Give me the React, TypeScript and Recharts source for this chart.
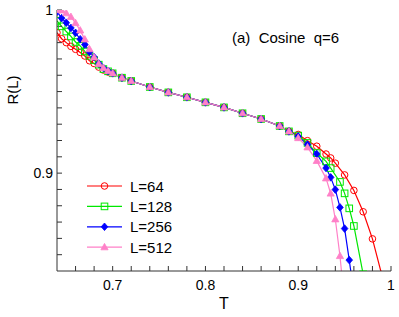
import { LineChart, Line, XAxis, YAxis } from "recharts";

// temperature grid: dense at low T, shared middle part
const lowT = [0.64, 0.645, 0.65, 0.655, 0.66, 0.665, 0.67, 0.675, 0.68, 0.685, 0.69, 0.695];
const midT = [0.7, 0.71, 0.72, 0.74, 0.76, 0.78, 0.8, 0.82, 0.84, 0.86, 0.88, 0.89];
const midR = [0.9612, 0.9585, 0.9565, 0.9528, 0.9495, 0.9465, 0.9434, 0.9403, 0.9367, 0.9332, 0.9289, 0.9256];

// L=64
const low64 = [0.9861, 0.9824, 0.98, 0.9777, 0.9759, 0.974, 0.9718, 0.9689, 0.9672, 0.965, 0.9632, 0.962];
const highT64 = [0.9, 0.91, 0.92, 0.93, 0.935, 0.94, 0.95, 0.96, 0.97, 0.98, 0.99];
const high64 = [0.9237, 0.9199, 0.9165, 0.9117, 0.9093, 0.9061, 0.8989, 0.8894, 0.8763, 0.8597, 0.8378];

// L=128
const low128 = [0.9934, 0.99, 0.9868, 0.9838, 0.9804, 0.978, 0.9746, 0.9719, 0.9693, 0.9665, 0.9638, 0.9624];
const highT128 = [0.9, 0.91, 0.92, 0.93, 0.935, 0.945, 0.95, 0.955, 0.96, 0.97];
const high128 = [0.923, 0.9185, 0.9123, 0.9072, 0.9031, 0.8946, 0.8876, 0.8784, 0.8676, 0.838];

// L=256
const low256 = [0.999, 0.995, 0.9922, 0.989, 0.986, 0.9821, 0.9788, 0.9743, 0.9711, 0.9672, 0.9645, 0.9627];
const highT256 = [0.9, 0.91, 0.92, 0.93, 0.935, 0.94, 0.945, 0.95, 0.955, 0.96];
const high256 = [0.9225, 0.9175, 0.9117, 0.9031, 0.8974, 0.8899, 0.879, 0.866, 0.8467, 0.826];

// L=512
const low512 = [1.0, 0.9998, 0.998, 0.9958, 0.992, 0.9875, 0.982, 0.976, 0.971, 0.967, 0.9645, 0.9627];
const highT512 = [0.9, 0.91, 0.92, 0.93, 0.935, 0.94, 0.945, 0.95];
const high512 = [0.9215, 0.9158, 0.9075, 0.8968, 0.8875, 0.8717, 0.8492, 0.82];

const xTicks = [0.66, 0.68, 0.7, 0.72, 0.74, 0.76, 0.78, 0.8, 0.82, 0.84, 0.86, 0.88, 0.9, 0.92, 0.94, 0.96, 0.98, 1.0];
const yTicks = [0.85, 0.86, 0.87, 0.88, 0.89, 0.9, 0.91, 0.92, 0.93, 0.94, 0.95, 0.96, 0.97, 0.98, 0.99, 1.0];

const FONT = "'Liberation Sans', Arial, Helvetica, sans-serif";

const build = (low: number[], highT: number[], high: number[]) => [
  ...lowT.map((t, i) => ({ t, r: low[i] })),
  ...midT.map((t, i) => ({ t, r: midR[i] })),
  ...highT.map((t, i) => ({ t, r: high[i] })),
];

const series = [
  { name: "L=64", color: "#ff0000", shape: "circle", data: build(low64, highT64, high64) },
  { name: "L=128", color: "#00e800", shape: "square", data: build(low128, highT128, high128) },
  { name: "L=256", color: "#0000ff", shape: "diamond", data: build(low256, highT256, high256) },
  { name: "L=512", color: "#ff80c8", shape: "triangle", data: build(low512, highT512, high512) },
];

function Marker({ shape, cx, cy, color }: { shape: string; cx: number; cy: number; color: string }) {
  if (cx == null || cy == null) return null;
  if (shape === "circle") return <circle cx={cx} cy={cy} r={3.3} fill="none" stroke={color} strokeWidth={1} />;
  if (shape === "square")
    return <rect x={cx - 3.3} y={cy - 3.3} width={6.6} height={6.6} fill="none" stroke={color} strokeWidth={1} />;
  if (shape === "diamond")
    return (
      <path
        d={`M${cx},${cy - 3.8}L${cx + 3.3},${cy}L${cx},${cy + 3.8}L${cx - 3.3},${cy}Z`}
        fill={color}
        stroke={color}
        strokeWidth={0.8}
      />
    );
  return (
    <path
      d={`M${cx},${cy - 3.8}L${cx + 3.6},${cy + 2.6}L${cx - 3.6},${cy + 2.6}Z`}
      fill={color}
      stroke={color}
      strokeWidth={0.8}
    />
  );
}

const isMajor = (v: number) => Math.abs(v * 10 - Math.round(v * 10)) < 1e-6;
const fmt = (v: number) => (isMajor(v) ? String(Math.round(v * 10) / 10) : "");

const LegendBox = () => (
  <svg width={110} height={86} style={{ position: "absolute", left: 84, top: 176, overflow: "visible" }}>
    {series.map((s, i) => {
      const y = 10 + i * 20.4;
      return (
        <g key={s.name}>
          <line x1={3} x2={38} y1={y} y2={y} stroke={s.color} strokeWidth={1.2} />
          <Marker shape={s.shape} cx={20.5} cy={y} color={s.color} />
          <text x={46} y={y + 5.5} fontSize={15} fontFamily={FONT} fill="#000">
            {s.name}
          </text>
        </g>
      );
    })}
  </svg>
);

export default function App() {
  return (
    <div style={{ position: "absolute", left: 0, top: 0, width: 399, height: 317, background: "#fff" }}>
      <LineChart width={399} height={317} margin={{ top: 10, right: 8, left: 0, bottom: 0 }}>
        <XAxis
          dataKey="t"
          type="number"
          domain={[0.64, 1.0]}
          ticks={xTicks}
          interval={0}
          allowDataOverflow
          height={46}
          tickSize={-5}
          tickMargin={14}
          tickFormatter={fmt}
          stroke="#333"
          tick={{ fill: "#000", fontSize: 14, fontFamily: FONT }}
          label={{ value: "T", position: "insideBottom", offset: 8, fill: "#000", fontSize: 16, fontFamily: FONT }}
        />
        <XAxis
          xAxisId="top"
          orientation="top"
          dataKey="t"
          type="number"
          domain={[0.64, 1.0]}
          ticks={xTicks}
          interval={0}
          allowDataOverflow
          height={0}
          tickSize={-5}
          tickFormatter={() => ""}
          stroke="#333"
        />
        <YAxis
          type="number"
          domain={[0.84, 1.0]}
          ticks={yTicks}
          interval={0}
          allowDataOverflow
          width={57}
          tickSize={-5}
          tickMargin={9}
          tickFormatter={fmt}
          stroke="#333"
          tick={{ fill: "#000", fontSize: 14, fontFamily: FONT }}
        />
        <YAxis
          yAxisId="right"
          orientation="right"
          type="number"
          domain={[0.84, 1.0]}
          ticks={yTicks}
          interval={0}
          allowDataOverflow
          width={0}
          tickSize={-5}
          tickFormatter={() => ""}
          stroke="#333"
        />
        {series.map((s) => (
          <Line
            key={s.name}
            name={s.name}
            data={s.data}
            dataKey="r"
            type="linear"
            stroke={s.color}
            strokeWidth={1.2}
            isAnimationActive={false}
            activeDot={false}
            dot={(p: { cx: number; cy: number; index: number }) => (
              <Marker key={`${s.name}-${p.index}`} shape={s.shape} cx={p.cx} cy={p.cy} color={s.color} />
            )}
          />
        ))}
      </LineChart>
      <LegendBox />
      <div
        style={{
          position: "absolute",
          left: 232,
          top: 30,
          fontSize: 15,
          lineHeight: "15px",
          fontFamily: FONT,
          whiteSpace: "pre",
          color: "#000",
        }}
      >
        {"(a)  Cosine  q=6"}
      </div>
      <div
        style={{
          position: "absolute",
          left: 12,
          top: 90,
          fontSize: 15,
          lineHeight: "15px",
          fontFamily: FONT,
          whiteSpace: "pre",
          color: "#000",
          transform: "translate(-50%, -50%) rotate(-90deg)",
        }}
      >
        R(L)
      </div>
    </div>
  );
}
